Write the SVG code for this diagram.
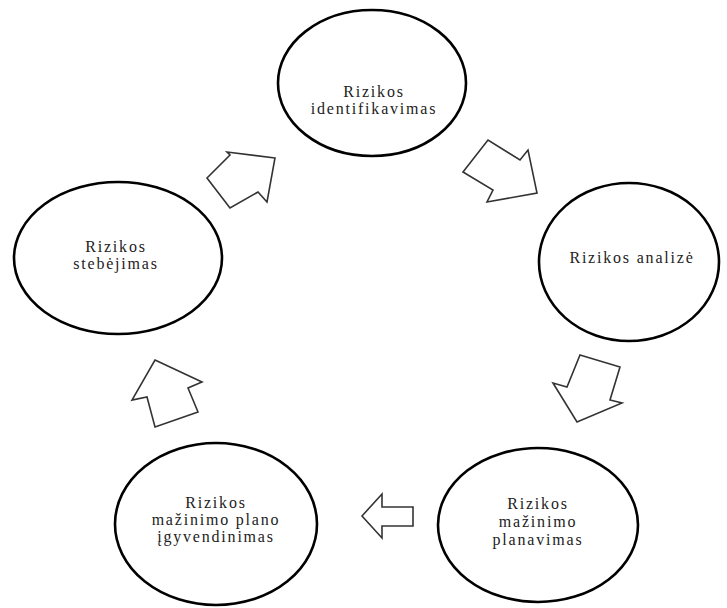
<svg xmlns="http://www.w3.org/2000/svg" width="727" height="608" viewBox="0 0 727 608">
<style>
.node ellipse{fill:#fff;stroke:#000;stroke-width:2.6}
.node text{font-family:"Liberation Serif","Times New Roman",serif;font-size:16px;fill:#222;text-anchor:middle;letter-spacing:1.8px}
.arr polygon{fill:#fff;stroke:#333;stroke-width:1.6;stroke-linejoin:miter}
</style>
<rect width="727" height="608" fill="#fff"/>
<g id="connectors" class="arr">
<polygon points="275,158 227,152 230,155 207,178 230,208 258,192 267,202"/>
<polygon points="463,172 488,140 520,160 528,150 537,193 487,202 493,190"/>
<polygon points="580,355 620,367 610,400 622,403 577,422 553,383 567,387"/>
<polygon points="362,516 382,494 382,507 413,507 413,526 382,526 382,538"/>
<polygon points="155,360 202,382 188,388 198,412 155,427 147,397 132,400"/>
</g>
<g id="n1" class="node">
<ellipse cx="372" cy="83" rx="94" ry="73"/>
<text x="374" y="97">Rizikos</text>
<text x="374" y="114">identifikavimas</text>
</g>
<g id="n2" class="node">
<ellipse cx="629" cy="262" rx="90" ry="79"/>
<text x="632" y="263">Rizikos analizė</text>
</g>
<g id="n3" class="node">
<ellipse cx="538" cy="525" rx="100" ry="77"/>
<text x="538" y="509">Rizikos</text>
<text x="538" y="527">mažinimo</text>
<text x="538" y="545">planavimas</text>
</g>
<g id="n4" class="node">
<ellipse cx="216" cy="524" rx="101" ry="81"/>
<text x="216" y="508">Rizikos</text>
<text x="216" y="525">mažinimo plano</text>
<text x="216" y="542">įgyvendinimas</text>
</g>
<g id="n5" class="node">
<ellipse cx="118" cy="258" rx="104" ry="76"/>
<text x="116" y="252">Rizikos</text>
<text x="116" y="269">stebėjimas</text>
</g>
</svg>
